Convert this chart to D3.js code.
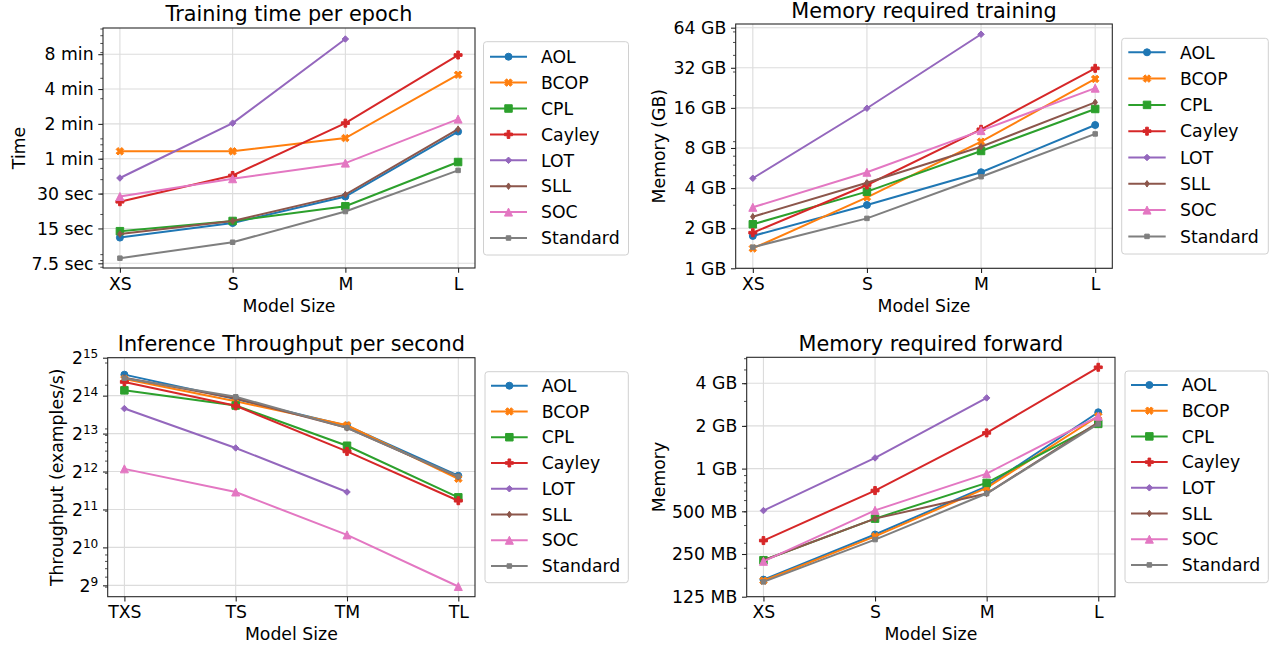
<!DOCTYPE html>
<html><head><meta charset="utf-8">
<script src="https://cdn.jsdelivr.net/npm/d3@7"></script>
<style>
body{margin:0;background:#fff}
svg{display:block}
text{font-family:"DejaVu Sans",sans-serif;fill:#000}
</style>
</head><body>
<svg id="c" width="1274" height="647"></svg>
<script>
// ---------------- DATA ----------------
const methods = ["AOL","BCOP","CPL","Cayley","LOT","SLL","SOC","Standard"];
const colors = ["#1f77b4","#ff7f0e","#2ca02c","#d62728","#9467bd","#8c564b","#e377c2","#7f7f7f"];
const markers = ["o","X","s","P","D","d","^","sq"];
const sizes = ["XS","S","M","L"];
const throughputSizes = ["TXS","TS","TM","TL"];

// Training time per epoch (seconds), rows follow `methods`
const trainTimeSec = [
  [12.5, 16.7, 28.3, 103],
  [69.6, 69.6, 90.5, 319],
  [14.2, 17.4, 23.3, 56.2],
  [25.5, 43.0, 121.8, 472],
  [40.9, 121.8, 649, null],
  [13.4, 17.4, 29.4, 108],
  [28.3, 40.3, 55.0, 132],
  [8.3, 11.4, 21.0, 47.6]
];
// Memory required training (GB)
const trainMemGB = [
  [1.75, 2.99, 5.26, 11.9],
  [1.41, 3.41, 8.92, 26.4],
  [2.14, 3.76, 7.6, 15.7],
  [1.85, 4.22, 11.05, 31.7],
  [4.74, 15.9, 57.1, null],
  [2.44, 4.39, 8.18, 17.6],
  [2.87, 5.26, 10.8, 22.5],
  [1.44, 2.37, 4.87, 10.2]
];
// Inference throughput (examples/s)
const throughput = [
  [24050, 15390, 9480, 3795],
  [22230, 14760, 9540, 3590],
  [18050, 13680, 6560, 2556],
  [21020, 13600, 5915, 2402],
  [12940, 6300, 2818, null],
  [22690, 15600, 9090, 3717],
  [4300, 2818, 1287, 501],
  [22500, 16050, 9090, 3740]
];
// Memory required forward (MB)
const fwdMemMB = [
  [165, 343, 750, 2495],
  [162, 333, 731, 2340],
  [226, 444, 793, 2066],
  [311, 700, 1785, 5180],
  [506, 1189, 3151, null],
  [226, 444, 667, 2120],
  [222, 508, 922, 2338],
  [159, 316, 667, 2066]
];

// tick values & labels
const timeTicks = [7.5, 15, 30, 60, 120, 240, 480];
const timeTickLabels = ["7.5 sec","15 sec","30 sec","1 min","2 min","4 min","8 min"];
const gbTicks = [1, 2, 4, 8, 16, 32, 64];
const gbTickLabels = ["1 GB","2 GB","4 GB","8 GB","16 GB","32 GB","64 GB"];
const thrExponents = [9, 10, 11, 12, 13, 14, 15];
const mbTicks = [125, 250, 500, 1000, 2000, 4000];
const mbTickLabels = ["125 MB","250 MB","500 MB","1 GB","2 GB","4 GB"];

// ---------------- DRAWING ----------------
const svg = d3.select("#c");
const FS = 17.3, TFS = 20.8;

function markerPath(type, s) {
  const h = s / 2;
  const poly = pts => "M" + pts.map(p => p[0].toFixed(2) + "," + p[1].toFixed(2)).join("L") + "Z";
  switch (type) {
    case "o": return d3.symbol(d3.symbolCircle, Math.PI * h * h)();
    case "s": return poly([[-h,-h],[h,-h],[h,h],[-h,h]]);
    case "sq": return poly([[-h,-h],[h,-h],[h,h],[-h,h]]);
    case "X": {
      const v = [[-1,-2],[0,-1],[1,-2],[2,-1],[1,0],[2,1],[1,2],[0,1],[-1,2],[-2,1],[-1,0],[-2,-1]];
      return poly(v.map(p => [p[0] * s / 4, p[1] * s / 4]));
    }
    case "P": {
      const v = [[-1,-3],[1,-3],[1,-1],[3,-1],[3,1],[1,1],[1,3],[-1,3],[-1,1],[-3,1],[-3,-1],[-1,-1]];
      return poly(v.map(p => [p[0] * s / 6, p[1] * s / 6]));
    }
    case "D": return poly([[0,-h],[h,0],[0,h],[-h,0]]);
    case "d": return poly([[0,-h],[h*0.7,0],[0,h],[-h*0.7,0]]);
    case "^": return poly([[0,-h],[h,h],[-h,h]]);
  }
}
const markerSize = {"o":7,"X":7.5,"s":7.5,"P":8,"D":6.5,"d":6.5,"^":8,"sq":4.5};

function minorTicks(domain) {
  const out = [];
  const k0 = Math.floor(Math.log10(domain[0])) - 1, k1 = Math.ceil(Math.log10(domain[1]));
  for (let k = k0; k <= k1; k++) for (let m = 2; m <= 9; m++) {
    const v = m * Math.pow(10, k);
    if (v >= domain[0] && v <= domain[1]) out.push(v);
  }
  return out;
}

function panel(cfg) {
  const {x0, x1, y0, y1, cats, data, yDomain, yTicks, yLabelFn, title, ylabel, ylabelX, titleDy, legend} = cfg;
  const g = svg.append("g");
  const x = d3.scalePoint().domain(cats).range([x0, x1]).padding(0.15);
  const y = d3.scaleLog().base(2).domain(yDomain).range([y1, y0]);

  // grid
  const grid = g.append("g");
  grid.selectAll("line.gx").data(cats).join("line")
    .attr("x1", d => x(d)).attr("x2", d => x(d)).attr("y1", y0).attr("y2", y1)
    .attr("stroke", "#dcdcdc").attr("stroke-width", 1.1);
  grid.selectAll("line.gy").data(yTicks).join("line")
    .attr("x1", x0).attr("x2", x1).attr("y1", d => y(d)).attr("y2", d => y(d))
    .attr("stroke", "#dcdcdc").attr("stroke-width", 1.1);

  // series
  const lineGen = d3.line().defined(d => d.v != null).x(d => x(d.c)).y(d => y(d.v));
  data.forEach((row, i) => {
    const pts = row.map((v, j) => ({c: cats[j], v}));
    const sg = g.append("g");
    sg.append("path").datum(pts).attr("d", lineGen).attr("fill", "none")
      .attr("stroke", colors[i]).attr("stroke-width", 2);
    sg.selectAll("path.m").data(pts.filter(d => d.v != null)).join("path")
      .attr("d", markerPath(markers[i], markerSize[markers[i]]))
      .attr("transform", d => `translate(${x(d.c)},${y(d.v)})`)
      .attr("fill", colors[i]).attr("stroke", colors[i]).attr("stroke-width", 1).attr("stroke-linejoin", "miter");
  });

  // spines
  g.append("rect").attr("x", x0).attr("y", y0).attr("width", x1 - x0).attr("height", y1 - y0)
    .attr("fill", "none").attr("stroke", "#222").attr("stroke-width", 1.07);

  // y axis major
  const ya = g.append("g").attr("transform", `translate(${x0},0)`)
    .call(d3.axisLeft(y).tickValues(yTicks).tickFormat(() => "").tickSize(4.7).tickPadding(4.7));
  ya.select(".domain").remove();
  ya.selectAll("line").attr("stroke", "#222").attr("stroke-width", 1.07);
  yTicks.forEach((t, i) => {
    const tx = g.append("text").attr("x", x0 - 9.4).attr("y", y(t)).attr("dy", "0.36em")
      .attr("text-anchor", "end").attr("font-size", FS);
    yLabelFn(tx, i);
  });
  // y axis minor
  const ym = g.append("g").attr("transform", `translate(${x0},0)`)
    .call(d3.axisLeft(y).tickValues(minorTicks(y.domain())).tickFormat(() => "").tickSize(2.7));
  ym.select(".domain").remove();
  ym.selectAll("line").attr("stroke", "#222").attr("stroke-width", 0.8);

  // x axis
  const xa = g.append("g").attr("transform", `translate(0,${y1})`)
    .call(d3.axisBottom(x).tickSize(4.7).tickPadding(4.7));
  xa.select(".domain").remove();
  xa.selectAll("line").attr("stroke", "#222").attr("stroke-width", 1.07);
  xa.selectAll("text").attr("font-size", FS).attr("font-family", "DejaVu Sans").attr("fill", "#000");

  // labels
  g.append("text").attr("x", (x0 + x1) / 2).attr("y", y1 + 43.5).attr("text-anchor", "middle")
    .attr("font-size", FS).text("Model Size");
  g.append("text").attr("transform", `translate(${ylabelX},${(y0 + y1) / 2}) rotate(-90)`)
    .attr("text-anchor", "middle").attr("font-size", FS).text(ylabel);
  g.append("text").attr("x", (x0 + x1) / 2).attr("y", y0 - titleDy).attr("text-anchor", "middle")
    .attr("font-size", TFS).text(title);

  // legend
  const L = legend;
  const lg = g.append("g");
  lg.append("rect").attr("x", L.bx0).attr("y", L.by0).attr("width", L.bx1 - L.bx0).attr("height", L.by1 - L.by0)
    .attr("rx", 3).attr("fill", "#fff").attr("fill-opacity", 0.8).attr("stroke", "#d0d0d0").attr("stroke-width", 1);
  methods.forEach((m, i) => {
    const yy = L.ey0 + i * L.step;
    lg.append("line").attr("x1", L.lx0).attr("x2", L.lx1).attr("y1", yy).attr("y2", yy)
      .attr("stroke", colors[i]).attr("stroke-width", 2);
    lg.append("path").attr("d", markerPath(markers[i], markerSize[markers[i]]))
      .attr("transform", `translate(${(L.lx0 + L.lx1) / 2},${yy})`)
      .attr("fill", colors[i]).attr("stroke", colors[i]).attr("stroke-width", 1);
    lg.append("text").attr("x", L.tx).attr("y", yy).attr("dy", "0.36em").attr("font-size", FS).text(m);
  });
}

const plainLabels = labels => (tx, i) => tx.text(labels[i]);

panel({
  x0: 103, x1: 475, y0: 28, y1: 268, cats: sizes, data: trainTimeSec,
  yDomain: [6.83, 808], yTicks: timeTicks, yLabelFn: plainLabels(timeTickLabels),
  title: "Training time per epoch", ylabel: "Time", ylabelX: 24.5, titleDy: 7.5,
  legend: {bx0: 483.5, bx1: 628.5, by0: 41.7, by1: 255, ey0: 56.7, step: 25.9, lx0: 490, lx1: 527, tx: 541}
});
panel({
  x0: 735.7, x1: 1112.3, y0: 24, y1: 268.3, cats: sizes, data: trainMemGB,
  yDomain: [1, 68.2], yTicks: gbTicks, yLabelFn: plainLabels(gbTickLabels),
  title: "Memory required training", ylabel: "Memory (GB)", ylabelX: 664.5, titleDy: 6.5,
  legend: {bx0: 1121.7, bx1: 1268.3, by0: 38.3, by1: 254, ey0: 52.3, step: 26.3, lx0: 1128.3, lx1: 1165.7, tx: 1180}
});
panel({
  x0: 107.7, x1: 475, y0: 357.7, y1: 596.7, cats: throughputSizes, data: throughput,
  yDomain: [416, 32768], yTicks: thrExponents.map(e => Math.pow(2, e)),
  yLabelFn: (tx, i) => {
    tx.append("tspan").text("2");
    tx.append("tspan").attr("dy", "-0.45em").attr("font-size", FS * 0.7).text(String(thrExponents[i]));
  },
  title: "Inference Throughput per second", ylabel: "Throughput (examples/s)", ylabelX: 62.8, titleDy: 6.5,
  legend: {bx0: 485, bx1: 628.3, by0: 371.7, by1: 582.7, ey0: 385.7, step: 25.76, lx0: 491, lx1: 527.7, tx: 541.7}
});
panel({
  x0: 746.7, x1: 1115, y0: 357.3, y1: 596.7, cats: sizes, data: fwdMemMB,
  yDomain: [125, 6090], yTicks: mbTicks, yLabelFn: plainLabels(mbTickLabels),
  title: "Memory required forward", ylabel: "Memory", ylabelX: 664.5, titleDy: 6.5,
  legend: {bx0: 1125, bx1: 1268.3, by0: 371, by1: 582.7, ey0: 385, step: 25.7, lx0: 1131, lx1: 1167.7, tx: 1181.7}
});
</script>
</body></html>
